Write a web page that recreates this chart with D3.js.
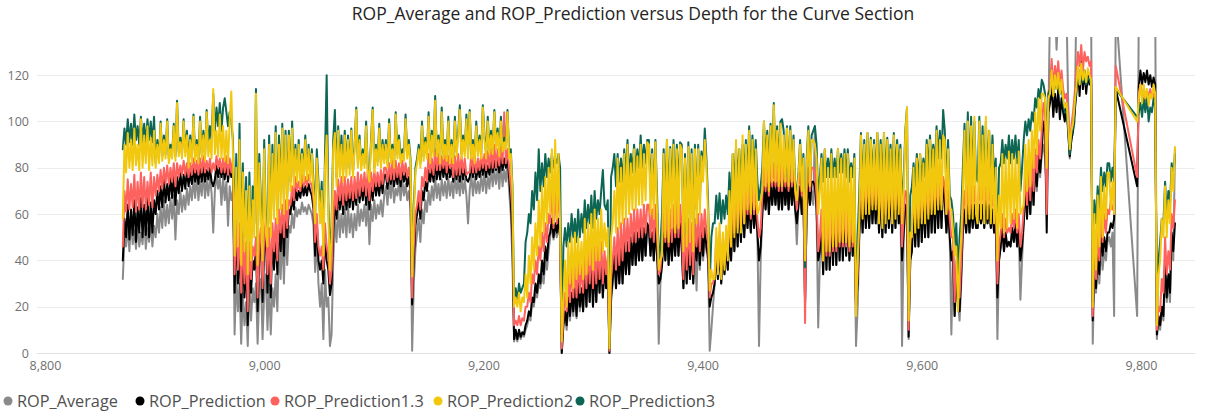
<!DOCTYPE html>
<html>
<head>
<meta charset="utf-8">
<script src="https://cdn.jsdelivr.net/npm/d3@7"></script>
<style>
  html, body { margin: 0; padding: 0; background: #ffffff; }
  svg { display: block; font-family: "Segoe UI", "Open Sans", "Noto Sans", sans-serif; }
</style>
</head>
<body>
<svg id="chart" width="1207" height="414"></svg>
<script>
// Depth samples: first depth (ft) and spacing between readings
const depthStart = 8871;
const depthStep = 1.5;

// ROP readings per depth sample (ft/hr), 20 readings (30 ft) per row; null = no reading
const ropAverage = [
  32, 50, 46, 55, 44, 57, 47, 53, 45, 56, 46, 52, 47, 58, 45, 54, 48, 57, 46, 55,
  50, 60, 52, 63, 54, 66, 55, 64, 56, 67, 58, 68, 49, 66, 60, 70, 61, 68, 62, 71,
  64, 72, 66, 75, 67, 77, 66, 74, 68, 78, 67, 75, 68, 76, 69, 52, 70, 77, 71, 76,
  64, 76, 66, 74, 55, 72, 66, 70, 8, 34, 18, 30, 4, 26, 12, 22, 3, 30, 14, 28,
  22, 30, 4, 28, 32, 6, 26, 34, 10, 30, 8, 28, 20, 34, 18, 48, 32, 52, 30, 55,
  38, 55, 52, 60, 54, 63, 59, 62, 60, 65, 61, 63, 60, 64, 62, 60, 55, 35, 50, 30,
  20, 30, 6, 36, 20, 24, 3, 8, 40, 58, 48, 63, 50, 60, 52, 62, 50, 64, 52, 60,
  50, 60, 53, 64, 55, 62, 57, 64, 55, 66, 47, 64, 57, 66, 58, 64, 60, 66, 59, 68,
  72, 64, 74, 67, 76, 65, 71, 68, 74, 66, 75, 68, 73, 66, 70, 62, 1, 30, 45, 52,
  58, 48, 62, 56, 66, 61, 70, 64, 72, 66, 76, 67, 73, 66, 75, 68, 74, 67, 76, 68,
  74, 67, 77, 69, 75, 68, 76, 69, 75, 68, 56, 70, 77, 68, 76, 69, 74, 69, 77, 70,
  78, 69, 76, 71, 80, 72, 79, 73, 80, 71, 82, 72, 79, 74, 82, 70, 60, 40, 5, 8,
  5, 9, 6, 8, 7, 10, 12, 16, 14, 22, 20, 26, 24, 30, 28, 34, 30, 40, 36, 44,
  50, 56, 49, 54, 50, 56, 50, 0, 12, 16, 10, 22, 14, 24, 16, 26, 15, 28, 18, 26,
  18, 34, 20, 36, 22, 38, 20, 36, 22, 38, 26, 40, 24, 36, 28, 34, 0, 22, 30, 40,
  28, 42, 30, 44, 30, 46, 34, 46, 34, 48, 38, 50, 38, 50, 40, 52, 40, 52, 42, 54,
  54, 42, 52, 40, 54, 42, 4, 30, 38, 50, 40, 52, 38, 50, 40, 52, 42, 54, 42, 54,
  44, 28, 46, 30, 48, 32, 46, 30, 48, 27, 50, 36, 50, 40, 52, 44, 40, 1, 10, 20,
  30, 44, 32, 46, 30, 44, 34, 46, 36, 50, 40, 58, 44, 62, 46, 64, 48, 66, 50, 64,
  54, 64, 52, 66, 54, 62, 52, 3, 40, 60, 70, 62, 72, 60, 72, 64, 72, 64, 72, 62,
  70, 62, 72, 64, 70, 62, 72, 64, 70, 62, 47, 64, 68, 60, 66, 21, 60, 70, 64, 70,
  64, 98, 60, 11, 40, 56, 34, 58, 36, 56, 36, 58, 38, 58, 38, 60, 40, 58, 40, 60,
  42, 58, 40, 56, 42, 56, 3, 20, 50, 66, 52, 68, 54, 68, 54, 70, 56, 68, 56, 70,
  52, 68, 50, 70, 52, 68, 54, 70, 52, 68, 54, 70, 56, 68, 3, 50, 62, 60, 6, 40,
  44, 62, 46, 64, 46, 66, 48, 66, 50, 68, 50, 68, 52, 70, 52, 70, 54, 70, 54, 72,
  64, 52, 62, 50, 8, 40, 16, 30, 22, 14, 30, 52, 60, 52, 62, 52, 62, 54, 62, 54,
  54, 62, 56, 62, 54, 64, 56, 62, 54, 60, 52, 58, 6, 40, 46, 52, 44, 50, 46, 48,
  46, 52, 48, 54, 46, 52, 23, 40, 56, 72, 58, 74, 60, 76, 64, 80, 70, 84, 76, 86,
  90, 84, 70, 100, 150, 150, 145, 150, 131, 150, 140, 150, 150, 145, 150, 110, 84, 92, 96, 100,
  150, 150, 150, 150, 150, 150, 150, 150, 150, 150, 4, 35, 26, 40, 30, 46, 36, 44, 40, 48,
  50, 46, 52, 16, 150, null, null, null, null, null, null, null, null, null, null, null, null, 16, 150, 150,
  150, 150, 150, 150, 150, 150, 150, 150, 150, 6, 14, 10, 18, 14, 36, 22, 30, 22, 50, 40,
  88
];

const ropPrediction = [
  40, 58, 50, 64, 49, 62, 51, 66, 48, 63, 52, 67, 50, 64, 51, 68, 50, 65, 52, 66,
  60, 70, 62, 72, 63, 75, 65, 73, 66, 76, 67, 77, 64, 76, 69, 78, 70, 77, 71, 79,
  72, 78, 73, 80, 74, 79, 73, 80, 74, 81, 74, 79, 75, 80, 74, 72, 75, 81, 76, 80,
  76, 80, 75, 82, 74, 81, 76, 80, 26, 55, 30, 48, 18, 45, 24, 40, 12, 42, 26, 40,
  36, 45, 18, 42, 48, 22, 44, 52, 26, 48, 24, 50, 36, 52, 34, 58, 44, 60, 42, 62,
  50, 62, 60, 68, 62, 71, 66, 70, 67, 73, 68, 72, 68, 73, 70, 68, 62, 42, 56, 40,
  36, 40, 30, 50, 40, 36, 25, 30, 52, 66, 58, 71, 62, 70, 60, 72, 62, 70, 63, 72,
  62, 70, 64, 74, 65, 72, 66, 74, 64, 75, 62, 73, 66, 76, 68, 74, 68, 76, 69, 77,
  77, 71, 79, 73, 80, 72, 78, 73, 79, 72, 80, 74, 78, 72, 76, 70, 21, 40, 55, 60,
  66, 58, 70, 66, 74, 70, 79, 74, 80, 74, 82, 75, 81, 75, 82, 76, 81, 75, 82, 76,
  80, 74, 82, 75, 81, 74, 82, 75, 80, 75, 74, 76, 81, 76, 82, 75, 80, 76, 82, 77,
  82, 76, 81, 77, 84, 78, 83, 79, 84, 78, 85, 79, 84, 80, 85, 76, 66, 50, 6, 10,
  6, 10, 7, 9, 8, 12, 14, 18, 16, 24, 22, 30, 26, 34, 30, 40, 34, 46, 40, 50,
  52, 58, 50, 56, 52, 58, 50, 0, 12, 18, 12, 24, 16, 26, 18, 28, 16, 30, 20, 28,
  18, 36, 20, 38, 22, 40, 20, 38, 22, 40, 26, 42, 24, 38, 28, 36, 0, 24, 32, 42,
  28, 44, 30, 46, 30, 48, 34, 48, 34, 50, 38, 52, 38, 52, 40, 54, 40, 54, 42, 56,
  54, 42, 52, 40, 54, 42, 30, 32, 38, 52, 40, 54, 38, 52, 40, 54, 42, 56, 42, 56,
  46, 28, 48, 30, 50, 32, 48, 30, 50, 40, 52, 38, 52, 42, 54, 46, 42, 20, 24, 26,
  30, 44, 32, 46, 30, 44, 34, 46, 36, 52, 40, 60, 44, 64, 46, 66, 48, 68, 50, 66,
  54, 66, 52, 68, 54, 64, 52, 40, 46, 60, 72, 62, 74, 60, 74, 64, 74, 64, 74, 62,
  76, 62, 76, 64, 74, 62, 76, 64, 74, 62, 56, 64, 72, 60, 68, 22, 62, 74, 64, 74,
  74, 72, 62, 40, 44, 58, 34, 60, 36, 58, 36, 60, 38, 60, 38, 62, 40, 60, 40, 62,
  42, 60, 40, 58, 42, 58, 20, 30, 52, 68, 52, 70, 54, 70, 54, 72, 56, 70, 56, 72,
  52, 70, 50, 72, 52, 70, 54, 72, 52, 70, 54, 72, 56, 70, 40, 52, 64, 62, 7, 40,
  44, 64, 46, 66, 46, 68, 48, 68, 50, 70, 50, 70, 52, 72, 52, 72, 54, 72, 54, 74,
  66, 52, 64, 50, 40, 44, 16, 34, 22, 18, 34, 54, 62, 52, 64, 52, 64, 54, 64, 54,
  54, 64, 56, 64, 54, 66, 56, 64, 54, 62, 52, 60, 24, 40, 46, 54, 44, 52, 46, 48,
  46, 54, 48, 56, 46, 54, 40, 46, 56, 74, 58, 76, 60, 78, 64, 82, 72, 86, 78, 88,
  100, 96, 52, 104, 108, 115, 102, 112, 104, 114, 101, 110, 104, 100, 108, 96, 85, 92, 96, 104,
  112, 124, 111, 126, 114, 122, 112, 120, 116, 118, 14, 38, 28, 44, 34, 52, 42, 50, 44, 52,
  52, 56, 54, 58, 114, null, null, null, null, null, null, null, null, null, null, null, null, 72, 115, 122,
  116, 121, 117, 122, 116, 120, 115, 119, 116, 8, 16, 12, 20, 16, 40, 24, 34, 26, 52, 44,
  56
];

const ropPrediction13 = [
  46, 70, 61, 75, 62, 73, 63, 77, 61, 74, 62, 78, 63, 76, 62, 74, 64, 78, 63, 76,
  68, 77, 70, 79, 71, 80, 73, 81, 73, 80, 74, 82, 72, 82, 76, 81, 77, 83, 77, 82,
  76, 82, 77, 84, 78, 83, 77, 84, 78, 85, 78, 83, 79, 84, 78, 82, 79, 85, 80, 84,
  78, 84, 78, 85, 77, 84, 78, 84, 34, 62, 36, 56, 26, 52, 30, 48, 18, 48, 32, 46,
  42, 50, 24, 48, 54, 28, 50, 58, 34, 54, 30, 56, 44, 58, 40, 62, 52, 64, 50, 66,
  54, 66, 64, 72, 66, 76, 70, 74, 70, 77, 72, 76, 72, 77, 74, 72, 66, 48, 60, 46,
  42, 46, 36, 56, 46, 42, 30, 36, 58, 70, 62, 75, 66, 76, 64, 76, 66, 75, 67, 76,
  66, 76, 67, 78, 68, 77, 70, 78, 68, 79, 66, 78, 70, 79, 72, 78, 72, 79, 73, 80,
  80, 74, 82, 75, 83, 75, 83, 76, 82, 75, 83, 77, 82, 76, 80, 74, 24, 46, 60, 64,
  70, 62, 76, 72, 80, 74, 86, 78, 84, 77, 88, 79, 86, 79, 85, 80, 86, 78, 85, 80,
  84, 76, 85, 77, 86, 77, 85, 78, 84, 77, 78, 78, 86, 78, 85, 78, 84, 79, 86, 80,
  86, 79, 87, 80, 88, 80, 90, 80, 88, 81, 89, 82, 104, 82, 88, 80, 72, 60, 12, 14,
  12, 16, 12, 15, 14, 20, 20, 26, 22, 34, 30, 40, 34, 46, 40, 52, 44, 56, 48, 60,
  56, 72, 54, 70, 56, 74, 54, 2, 16, 26, 18, 34, 22, 38, 24, 38, 24, 40, 26, 38,
  26, 44, 28, 46, 30, 48, 28, 46, 30, 48, 32, 48, 30, 44, 34, 42, 1, 32, 40, 50,
  36, 54, 38, 56, 40, 58, 44, 58, 44, 60, 48, 62, 48, 62, 50, 62, 50, 64, 52, 64,
  64, 50, 62, 48, 64, 50, 34, 36, 46, 62, 48, 64, 46, 62, 48, 64, 50, 66, 50, 64,
  54, 32, 56, 36, 58, 38, 56, 34, 58, 46, 60, 44, 60, 50, 62, 52, 48, 24, 30, 30,
  34, 50, 36, 52, 34, 50, 38, 52, 42, 60, 46, 68, 52, 72, 54, 74, 54, 75, 56, 72,
  60, 74, 58, 76, 60, 72, 58, 50, 54, 68, 80, 70, 82, 68, 82, 72, 82, 72, 82, 70,
  82, 70, 82, 72, 80, 70, 82, 72, 80, 70, 62, 72, 78, 68, 74, 13, 70, 80, 70, 80,
  80, 78, 68, 44, 50, 62, 40, 64, 42, 62, 42, 64, 44, 64, 44, 66, 46, 64, 46, 66,
  46, 64, 44, 62, 46, 62, 20, 36, 60, 76, 60, 78, 62, 78, 62, 78, 64, 76, 64, 78,
  60, 76, 58, 78, 60, 76, 62, 78, 60, 76, 62, 78, 64, 76, 46, 60, 70, 68, 10, 48,
  54, 70, 56, 72, 58, 72, 58, 74, 60, 74, 60, 74, 62, 75, 62, 75, 64, 75, 64, 76,
  72, 60, 70, 58, 50, 50, 22, 40, 30, 24, 40, 60, 70, 60, 72, 60, 72, 62, 72, 62,
  62, 72, 64, 72, 62, 72, 64, 72, 62, 68, 60, 66, 30, 46, 52, 60, 50, 58, 52, 54,
  52, 60, 54, 62, 52, 60, 46, 52, 62, 78, 64, 82, 66, 84, 70, 88, 78, 92, 84, 96,
  108, 104, 60, 112, 116, 127, 114, 124, 118, 126, 116, 122, 114, 110, 112, 104, 90, 98, 104, 112,
  121, 130, 124, 133, 122, 130, 126, 128, 124, 126, 16, 44, 32, 52, 40, 62, 48, 60, 52, 62,
  60, 66, 62, 64, 124, null, null, null, null, null, null, null, null, null, null, null, null, 76, 112, 116,
  110, 114, 109, 113, 111, 114, 110, 112, 110, 10, 20, 18, 32, 26, 50, 34, 44, 36, 60, 54,
  66
];

const ropPrediction2 = [
  58, 90, 78, 95, 80, 92, 79, 97, 81, 90, 79, 101, 80, 94, 82, 98, 79, 93, 81, 96,
  80, 90, 82, 99, 83, 92, 84, 100, 82, 88, 84, 98, 83, 108, 85, 91, 84, 100, 85, 94,
  80, 92, 82, 102, 83, 90, 82, 100, 84, 94, 83, 104, 85, 92, 84, 114, 86, 96, 85, 103,
  84, 98, 83, 96, 82, 100, 113, 86, 42, 80, 46, 92, 38, 78, 44, 70, 34, 72, 40, 66,
  50, 112, 38, 82, 60, 40, 88, 52, 46, 90, 50, 86, 58, 95, 56, 90, 62, 97, 60, 94,
  62, 94, 70, 97, 72, 88, 74, 90, 72, 86, 74, 92, 75, 88, 74, 86, 70, 56, 84, 70,
  56, 70, 42, 80, 94, 60, 36, 50, 88, 95, 72, 96, 76, 90, 74, 94, 76, 92, 77, 96,
  76, 88, 105, 80, 92, 79, 86, 80, 98, 78, 74, 90, 105, 78, 88, 81, 97, 80, 90, 82,
  90, 80, 99, 82, 88, 80, 103, 84, 92, 82, 86, 83, 101, 84, 90, 82, 33, 60, 78, 82,
  88, 80, 98, 83, 91, 84, 102, 82, 94, 85, 109, 85, 92, 82, 104, 84, 90, 83, 100, 82,
  90, 82, 100, 85, 93, 105, 84, 92, 85, 101, 84, 104, 84, 90, 82, 98, 85, 92, 84, 106,
  92, 84, 100, 86, 94, 86, 104, 88, 95, 85, 100, 87, 91, 88, 104, 84, 86, 70, 20, 24,
  20, 26, 18, 24, 22, 34, 24, 42, 30, 50, 36, 56, 42, 66, 46, 72, 52, 76, 56, 80,
  60, 88, 56, 92, 58, 86, 56, 5, 24, 40, 20, 48, 30, 50, 28, 52, 32, 50, 34, 48,
  32, 58, 34, 56, 38, 60, 36, 62, 40, 58, 40, 62, 44, 56, 46, 54, 2, 50, 56, 70,
  52, 84, 54, 80, 56, 86, 58, 90, 60, 82, 62, 88, 62, 85, 64, 90, 64, 86, 66, 91,
  90, 60, 86, 58, 91, 60, 36, 40, 42, 86, 50, 92, 48, 88, 54, 90, 52, 88, 54, 90,
  88, 44, 84, 46, 89, 48, 86, 44, 88, 56, 88, 60, 85, 74, 92, 80, 60, 27, 36, 32,
  32, 54, 34, 56, 32, 52, 36, 55, 40, 70, 46, 86, 50, 92, 52, 88, 52, 94, 56, 90,
  62, 96, 60, 92, 62, 88, 60, 62, 66, 70, 100, 72, 94, 70, 98, 74, 107, 74, 96, 72,
  99, 72, 94, 74, 97, 72, 96, 74, 92, 70, 66, 76, 90, 70, 84, 40, 80, 96, 72, 92,
  92, 90, 84, 60, 70, 84, 40, 88, 44, 80, 44, 86, 46, 80, 46, 88, 48, 84, 48, 86,
  48, 86, 46, 80, 48, 84, 16, 40, 58, 94, 58, 90, 60, 95, 60, 92, 62, 90, 62, 95,
  56, 90, 54, 95, 56, 92, 58, 88, 56, 94, 58, 90, 60, 88, 56, 70, 94, 106, 14, 52,
  50, 80, 52, 84, 54, 86, 56, 82, 56, 90, 58, 92, 60, 88, 60, 96, 62, 92, 62, 94,
  92, 60, 88, 62, 62, 53, 42, 46, 18, 40, 50, 70, 96, 56, 100, 58, 98, 58, 102, 60,
  56, 100, 58, 94, 56, 102, 58, 96, 56, 90, 56, 80, 40, 68, 54, 86, 52, 84, 54, 87,
  56, 86, 58, 84, 54, 87, 60, 62, 64, 90, 70, 92, 72, 96, 80, 104, 86, 110, 96, 112,
  112, 110, 80, 110, 112, 122, 111, 120, 114, 121, 112, 118, 110, 106, 108, 100, 88, 96, 99, 108,
  115, 124, 116, 125, 118, 122, 117, 123, 120, 118, 20, 60, 36, 68, 46, 76, 50, 72, 58, 78,
  78, 62, 74, 60, 115, null, null, null, null, null, null, null, null, null, null, null, null, 100, 110, 116,
  108, 116, 110, 114, 107, 112, 110, 116, 112, 12, 34, 40, 58, 50, 72, 50, 66, 56, 80, 70,
  89
];

const ropPrediction3 = [
  88, 97, 90, 101, 91, 99, 90, 103, 92, 98, 90, 102, 91, 99, 90, 101, 92, 100, 91, 102,
  82, 92, 84, 100, 85, 94, 86, 101, 84, 90, 86, 99, 85, 109, 87, 93, 86, 101, 87, 96,
  82, 94, 84, 103, 85, 92, 84, 102, 86, 96, 85, 105, 90, 98, 92, 112, 96, 106, 98, 108,
  96, 106, 110, 104, 98, 104, 100, 92, 50, 86, 52, 99, 46, 82, 50, 76, 40, 78, 46, 72,
  56, 114, 44, 86, 66, 48, 92, 58, 52, 94, 56, 90, 64, 98, 62, 94, 70, 99, 66, 96,
  68, 96, 74, 100, 76, 90, 78, 92, 76, 88, 78, 94, 78, 90, 77, 88, 74, 60, 88, 74,
  60, 74, 46, 86, 120, 66, 40, 56, 92, 105, 76, 98, 80, 94, 78, 96, 80, 94, 80, 97,
  78, 90, 106, 82, 94, 81, 88, 82, 100, 80, 76, 92, 106, 80, 90, 83, 99, 82, 92, 84,
  92, 82, 101, 84, 90, 82, 104, 86, 94, 84, 88, 85, 103, 86, 92, 84, 36, 64, 80, 84,
  90, 82, 100, 85, 93, 86, 104, 84, 96, 87, 111, 86, 94, 84, 106, 86, 92, 85, 102, 84,
  92, 84, 102, 87, 95, 107, 86, 94, 87, 103, 86, 105, 86, 92, 84, 100, 87, 94, 86, 107,
  94, 86, 102, 88, 96, 88, 105, 90, 97, 87, 102, 89, 93, 90, 105, 86, 88, 72, 22, 28,
  22, 30, 26, 28, 30, 48, 52, 60, 56, 70, 62, 78, 66, 88, 70, 82, 72, 86, 76, 84,
  78, 86, 80, 84, 82, 86, 80, 8, 46, 54, 46, 56, 48, 60, 50, 58, 48, 62, 50, 60,
  52, 66, 54, 64, 56, 68, 54, 70, 58, 66, 60, 70, 79, 64, 62, 66, 2, 76, 80, 86,
  72, 86, 74, 84, 74, 88, 76, 92, 76, 86, 78, 90, 78, 88, 80, 94, 80, 90, 82, 92,
  92, 70, 88, 66, 92, 68, 40, 46, 60, 88, 66, 92, 64, 89, 70, 92, 68, 90, 70, 91,
  90, 50, 86, 52, 91, 54, 88, 50, 90, 62, 90, 66, 87, 80, 97, 84, 66, 30, 50, 56,
  56, 68, 58, 69, 56, 66, 58, 68, 60, 78, 64, 86, 72, 89, 74, 88, 74, 90, 76, 92,
  76, 98, 74, 94, 76, 92, 74, 66, 72, 80, 100, 82, 96, 80, 99, 82, 108, 80, 98, 80,
  100, 101, 96, 76, 98, 74, 98, 76, 94, 72, 70, 78, 92, 72, 86, 37, 84, 98, 74, 94,
  96, 98, 90, 66, 76, 86, 74, 88, 76, 84, 76, 88, 76, 84, 76, 88, 78, 86, 78, 88,
  76, 88, 74, 82, 76, 86, 22, 50, 70, 95, 70, 92, 72, 95, 72, 93, 74, 92, 74, 95,
  74, 92, 72, 95, 74, 93, 76, 90, 74, 95, 76, 92, 78, 90, 62, 76, 96, 106, 18, 68,
  72, 82, 72, 86, 74, 86, 74, 84, 76, 92, 78, 94, 80, 90, 80, 98, 84, 96, 84, 105,
  96, 70, 92, 68, 66, 60, 46, 56, 34, 50, 60, 80, 99, 72, 104, 74, 102, 74, 100, 76,
  74, 102, 76, 98, 74, 100, 76, 96, 74, 94, 74, 84, 46, 80, 82, 92, 82, 90, 84, 94,
  82, 92, 84, 94, 82, 92, 70, 80, 92, 100, 94, 101, 96, 104, 100, 110, 106, 114, 110, 118,
  116, 112, 90, 112, 114, 120, 112, 118, 114, 118, 112, 116, 108, 104, 104, 98, 86, 94, 97, 106,
  116, 120, 116, 119, 117, 120, 116, 119, 118, 116, 22, 66, 56, 72, 62, 80, 70, 78, 72, 82,
  82, 74, 80, 74, 114, null, null, null, null, null, null, null, null, null, null, null, null, 102, 104, 108,
  102, 110, 104, 111, 100, 106, 104, 110, 106, 14, 40, 48, 58, 56, 74, 60, 70, 64, 82, 76,
  86
];

const seriesNames  = ["ROP_Average", "ROP_Prediction", "ROP_Prediction1.3", "ROP_Prediction2", "ROP_Prediction3"];
const seriesValues = [ropAverage, ropPrediction, ropPrediction13, ropPrediction2, ropPrediction3];
const seriesColors = ["#8a8a8a", "#000000", "#fd625e", "#f2c80f", "#0c6653"];
// paint order: yellow sits on top of the dark-green line
const drawOrder = [0, 1, 2, 4, 3];

const xTicks = [8800, 9000, 9200, 9400, 9600, 9800];
const yTicks = [0, 20, 40, 60, 80, 100, 120];
const chartTitle = "ROP_Average and ROP_Prediction versus Depth for the Curve Section";

// ---------------------------------------------------------------
const svg = d3.select("#chart");
const plot = { left: 37, right: 1195, top: 37, bottom: 353 };

const x = d3.scaleLinear().domain([8792.7, 9849.3]).range([plot.left, plot.right]);
const y = d3.scaleLinear().domain([0, 136.5]).range([plot.bottom, plot.top]);

const depths = d3.range(ropAverage.length).map(i => depthStart + i * depthStep);

// title
svg.append("text")
  .attr("x", 633).attr("y", 20)
  .attr("text-anchor", "middle")
  .attr("font-size", 17.5)
  .attr("fill", "#252423")
  .text(chartTitle);

// horizontal gridlines
svg.append("g")
  .selectAll("line")
  .data(yTicks)
  .join("line")
  .attr("x1", plot.left).attr("x2", plot.right)
  .attr("y1", d => Math.round(y(d)) + 0.5).attr("y2", d => Math.round(y(d)) + 0.5)
  .attr("stroke", d => d === 0 ? "#e1e1e1" : "#ececec")
  .attr("stroke-width", 1);

// y axis labels
const yAxis = d3.axisLeft(y).tickValues(yTicks).tickSize(0).tickPadding(0).tickFormat(d3.format(","));
svg.append("g")
  .attr("transform", "translate(29,0)")
  .call(yAxis)
  .call(g => g.select(".domain").remove())
  .call(g => g.selectAll("text")
    .attr("fill", "#6f6f6f")
    .attr("font-size", 12.5)
    .attr("font-family", "\"Segoe UI\", \"Open Sans\", sans-serif"));

// x axis labels
const xAxis = d3.axisBottom(x).tickValues(xTicks).tickSize(0).tickPadding(0).tickFormat(d3.format(","));
svg.append("g")
  .attr("transform", "translate(0,361)")
  .call(xAxis)
  .call(g => g.select(".domain").remove())
  .call(g => g.selectAll("text")
    .attr("fill", "#6f6f6f")
    .attr("font-size", 12.5)
    .attr("font-family", "\"Segoe UI\", \"Open Sans\", sans-serif"));

// clip lines to the plotting area
svg.append("clipPath").attr("id", "plot-clip")
  .append("rect")
  .attr("x", plot.left).attr("y", plot.top)
  .attr("width", plot.right - plot.left)
  .attr("height", plot.bottom - plot.top + 3);

const line = d3.line().x(d => x(d[0])).y(d => y(d[1]));

const linesG = svg.append("g").attr("clip-path", "url(#plot-clip)");
drawOrder.forEach(si => {
  const pts = depths.map((d, i) => [d, seriesValues[si][i]]).filter(p => p[1] !== null);
  linesG.append("path")
    .datum(pts)
    .attr("d", line)
    .attr("fill", "none")
    .attr("stroke", seriesColors[si])
    .attr("stroke-width", 2)
    .attr("stroke-linejoin", "round")
    .attr("stroke-linecap", "round");
});

// legend
const legendX = [8, 140, 275, 438, 580];
const legend = svg.append("g").attr("transform", "translate(0,401)");
seriesNames.forEach((name, i) => {
  legend.append("circle")
    .attr("cx", legendX[i]).attr("cy", 0).attr("r", 4.5)
    .attr("fill", seriesColors[i]);
  legend.append("text")
    .attr("x", legendX[i] + 9).attr("y", 0)
    .attr("dy", "0.35em")
    .attr("font-size", 16.3)
    .attr("fill", "#505050")
    .text(name);
});
</script>
</body>
</html>
